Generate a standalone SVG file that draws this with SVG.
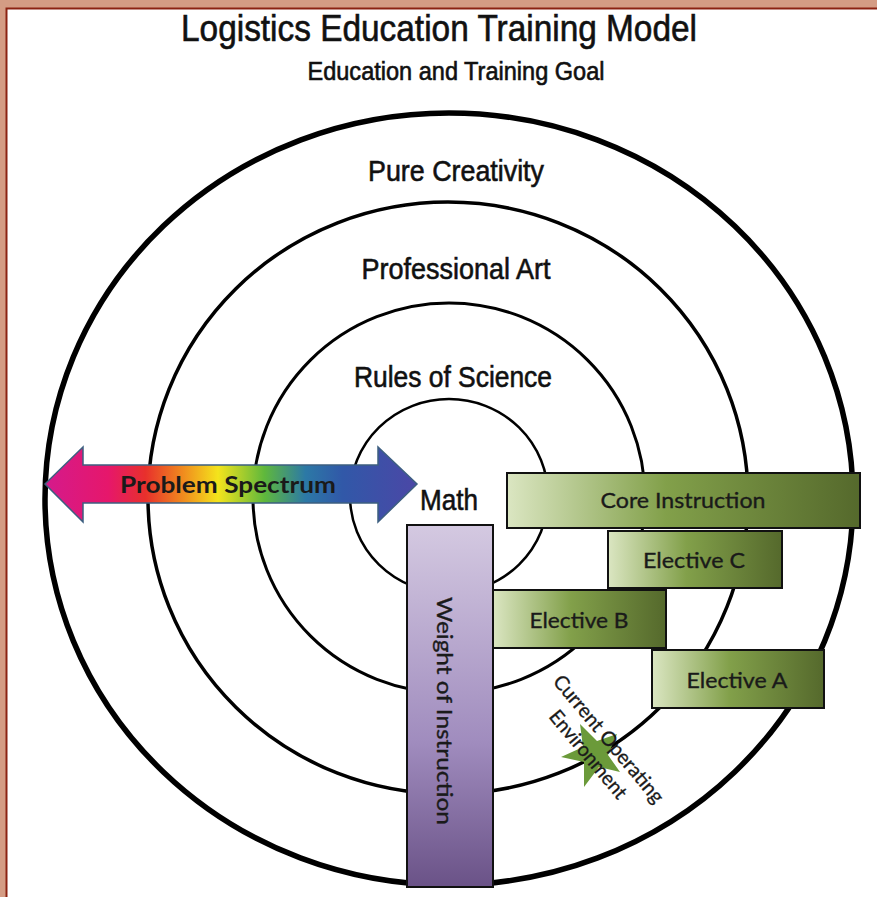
<svg xmlns="http://www.w3.org/2000/svg" width="877" height="897" viewBox="0 0 877 897">
<defs>
<style>
.hd{font-family:"Liberation Sans",Arial,sans-serif;fill:#111;stroke:#111;stroke-width:0.6;text-anchor:middle}
.bx{font-family:Lato,"Open Sans",sans-serif;fill:#1a1a1a;stroke:#1a1a1a;stroke-width:0.35;text-anchor:middle;font-size:22px}
.ring{fill:none;stroke:#000}
.box{stroke:#111;stroke-width:2;fill:url(#green)}
</style>
<linearGradient id="green" x1="0" y1="0" x2="1" y2="0">
<stop offset="0" stop-color="#dbe6c2"/>
<stop offset="0.45" stop-color="#82a04a"/>
<stop offset="1" stop-color="#55692c"/>
</linearGradient>
<linearGradient id="purple" x1="0" y1="0" x2="0" y2="1">
<stop offset="0" stop-color="#d4c9e1"/>
<stop offset="0.6" stop-color="#a08cbe"/>
<stop offset="1" stop-color="#6a5287"/>
</linearGradient>
<linearGradient id="spectrum" gradientUnits="userSpaceOnUse" x1="45" y1="0" x2="417" y2="0">
<stop offset="0" stop-color="#d41a8c"/>
<stop offset="0.17" stop-color="#e6176b"/>
<stop offset="0.27" stop-color="#e8302c"/>
<stop offset="0.37" stop-color="#f08a1e"/>
<stop offset="0.465" stop-color="#f4e41c"/>
<stop offset="0.59" stop-color="#5fb83c"/>
<stop offset="0.7" stop-color="#2c79a6"/>
<stop offset="0.8" stop-color="#3158a8"/>
<stop offset="1" stop-color="#4b47a6"/>
</linearGradient>
</defs>
<rect x="0" y="0" width="877" height="897" fill="#d49c84"/>
<rect x="6.5" y="8.5" width="880" height="900" fill="#fff" stroke="#8b2212" stroke-width="2"/>

<g id="title">
<text class="hd" x="439" y="41" font-size="36" textLength="516" lengthAdjust="spacingAndGlyphs">Logistics Education Training Model</text>
<text class="hd" x="456" y="80" font-size="25" stroke-width="0.4" textLength="297" lengthAdjust="spacingAndGlyphs">Education and Training Goal</text>
</g>

<g id="rings">
<ellipse class="ring" cx="449" cy="499" rx="404" ry="386" stroke-width="5.5"/>
<ellipse class="ring" cx="448" cy="498" rx="300" ry="296" stroke-width="3.5"/>
<ellipse class="ring" cx="449" cy="498" rx="196" ry="195" stroke-width="3"/>
<ellipse class="ring" cx="449" cy="496" rx="99" ry="97" stroke-width="2.5"/>
</g>

<g id="ring-labels">
<text class="hd" x="456" y="181" font-size="30" textLength="176" lengthAdjust="spacingAndGlyphs">Pure Creativity</text>
<text class="hd" x="456" y="279" font-size="30" textLength="189" lengthAdjust="spacingAndGlyphs">Professional Art</text>
<text class="hd" x="453" y="387" font-size="29" textLength="198" lengthAdjust="spacingAndGlyphs">Rules of Science</text>
<text class="hd" x="449" y="510" font-size="30" textLength="58" lengthAdjust="spacingAndGlyphs">Math</text>
</g>

<g id="problem-spectrum">
<path d="M45,484 L83,447 L83,465 L378,465 L378,447 L417,484 L378,522 L378,503 L83,503 L83,522 Z" fill="url(#spectrum)" stroke="#3d5f80" stroke-width="1.5"/>
<text x="228" y="493" font-family="Lato,'Open Sans',sans-serif" font-weight="bold" font-size="22" fill="#1a1a1a" text-anchor="middle" textLength="216" lengthAdjust="spacingAndGlyphs">Problem Spectrum</text>
</g>

<g id="weight-of-instruction">
<rect x="407" y="525" width="86" height="362" fill="url(#purple)" stroke="#111" stroke-width="2"/>
<text class="bx" transform="translate(445,711) rotate(90)" x="0" y="0" dominant-baseline="central" font-size="21" textLength="228" lengthAdjust="spacingAndGlyphs">Weight of Instruction</text>
</g>

<g id="core-instruction">
<rect class="box" x="507" y="473" width="353" height="55"/>
<text class="bx" x="683" y="508" textLength="165" lengthAdjust="spacingAndGlyphs">Core Instruction</text>
</g>
<g id="elective-c">
<rect class="box" x="608" y="531" width="174" height="57"/>
<text class="bx" x="694" y="568" textLength="102" lengthAdjust="spacingAndGlyphs">Elective C</text>
</g>
<g id="elective-b">
<rect class="box" x="493" y="590" width="173" height="58"/>
<text class="bx" x="579" y="628" textLength="99" lengthAdjust="spacingAndGlyphs">Elective B</text>
</g>
<g id="elective-a">
<rect class="box" x="652" y="650" width="172" height="58"/>
<text class="bx" x="737" y="688" textLength="101" lengthAdjust="spacingAndGlyphs">Elective A</text>
</g>

<g id="current-operating-environment">
<polygon points="561,757 583,747 580,724 597,741 617,734 608,755 620,772 599,767 584,787 584,762" fill="#6b9a3a"/>
<g font-family="Lato,'Open Sans',sans-serif" font-size="20" fill="#1a1a1a" stroke="#1a1a1a" stroke-width="0.3">
<text transform="translate(552,682) rotate(50)" textLength="160" lengthAdjust="spacingAndGlyphs">Current Operating</text>
<text transform="translate(548,717) rotate(50)" textLength="109" lengthAdjust="spacingAndGlyphs">Environment</text>
</g>
</g>
</svg>
